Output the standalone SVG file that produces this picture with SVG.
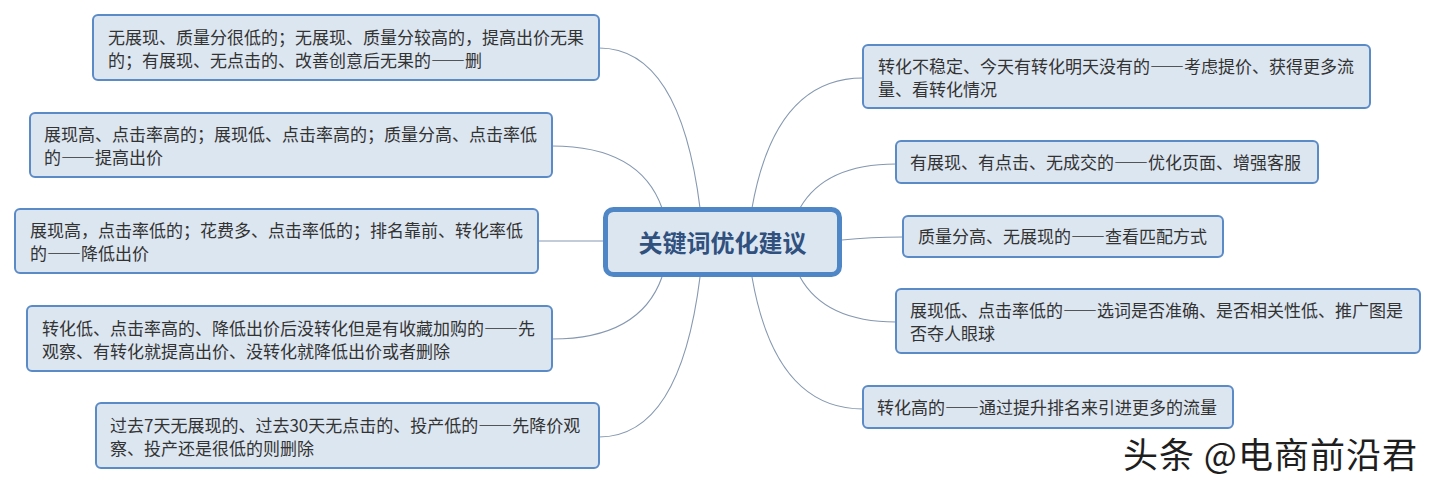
<svg xmlns="http://www.w3.org/2000/svg" width="1437" height="485" viewBox="0 0 1437 485">
<style>
.node rect{fill:#dce6f1;stroke:#5b8bc7;stroke-width:2}
.node text{font-family:"Noto Sans CJK SC","Microsoft YaHei",sans-serif;font-size:17px;fill:#333333}
.d{font-feature-settings:"fwid" 1}
#center rect{fill:#dce6f1;stroke:#4f86c6;stroke-width:5}
#center text{font-family:"Noto Sans CJK SC","Microsoft YaHei",sans-serif;font-size:24px;font-weight:bold;fill:#30507e}
#connectors path{fill:none;stroke:#8598b0;stroke-width:1.1}
.wm{font-family:"Noto Sans CJK SC",sans-serif;font-size:35px;fill:#1e1e1e;stroke:#ffffff;stroke-width:1.5;paint-order:stroke;letter-spacing:1px}
</style>
<rect width="1437" height="485" fill="#ffffff"/>
<g id="connectors">
<path d="M700,208 Q680,48 599,48"/>
<path d="M662,208 Q640,146 552,146"/>
<path d="M603,241 L538,241"/>
<path d="M662,277 Q640,339 552,339"/>
<path d="M700,277 Q680,437 599,437"/>
<path d="M752,208 Q775,78 863,78"/>
<path d="M800,208 Q825,164 896,164"/>
<path d="M842,240 Q870,237 903,237"/>
<path d="M800,277 Q825,322 896,322"/>
<path d="M752,277 Q775,409 863,409"/>
</g>
<g id="center">
<rect x="605.5" y="209.5" width="234" height="65" rx="8"/>
<text x="722.5" y="252" text-anchor="middle">关键词优化建议</text>
</g>
<g id="l1" class="node">
<rect x="93" y="15" width="506" height="65" rx="5"/>
<text x="108" y="43.5">无展现、质量分很低的；无展现、质量分较高的，提高出价无果</text>
<text x="108" y="66.5">的；有展现、无点击的、改善创意后无果的<tspan class="d">——</tspan>删</text>
</g>
<g id="l2" class="node">
<rect x="30" y="113" width="522" height="64" rx="5"/>
<text x="44" y="141">展现高、点击率高的；展现低、点击率高的；质量分高、点击率低</text>
<text x="44" y="164">的<tspan class="d">——</tspan>提高出价</text>
</g>
<g id="l3" class="node">
<rect x="15" y="209" width="523" height="64" rx="5"/>
<text x="30" y="237">展现高，点击率低的；花费多、点击率低的；排名靠前、转化率低</text>
<text x="30" y="260">的<tspan class="d">——</tspan>降低出价</text>
</g>
<g id="l4" class="node">
<rect x="27" y="306" width="525" height="65" rx="5"/>
<text x="42" y="334.5">转化低、点击率高的、降低出价后没转化但是有收藏加购的<tspan class="d">——</tspan>先</text>
<text x="42" y="357.5">观察、有转化就提高出价、没转化就降低出价或者删除</text>
</g>
<g id="l5" class="node">
<rect x="96" y="403" width="503" height="65" rx="5"/>
<text x="110" y="431.5">过去7天无展现的、过去30天无点击的、投产低的<tspan class="d">——</tspan>先降价观</text>
<text x="110" y="454.5">察、投产还是很低的则删除</text>
</g>
<g id="r1" class="node">
<rect x="863" y="45" width="507" height="63" rx="5"/>
<text x="878" y="72.5">转化不稳定、今天有转化明天没有的<tspan class="d">——</tspan>考虑提价、获得更多流</text>
<text x="878" y="95.5">量、看转化情况</text>
</g>
<g id="r2" class="node">
<rect x="896" y="141" width="422" height="42" rx="5"/>
<text x="910" y="168.5">有展现、有点击、无成交的<tspan class="d">——</tspan>优化页面、增强客服</text>
</g>
<g id="r3" class="node">
<rect x="903" y="216" width="320" height="41" rx="5"/>
<text x="918" y="243">质量分高、无展现的<tspan class="d">——</tspan>查看匹配方式</text>
</g>
<g id="r4" class="node">
<rect x="896" y="289" width="524" height="64" rx="5"/>
<text x="910" y="317">展现低、点击率低的<tspan class="d">——</tspan>选词是否准确、是否相关性低、推广图是</text>
<text x="910" y="340">否夺人眼球</text>
</g>
<g id="r5" class="node">
<rect x="863" y="386" width="370" height="42" rx="5"/>
<text x="877" y="413.5">转化高的<tspan class="d">——</tspan>通过提升排名来引进更多的流量</text>
</g>
<text class="wm" x="1123" y="468">头条 @电商前沿君</text>
</svg>
